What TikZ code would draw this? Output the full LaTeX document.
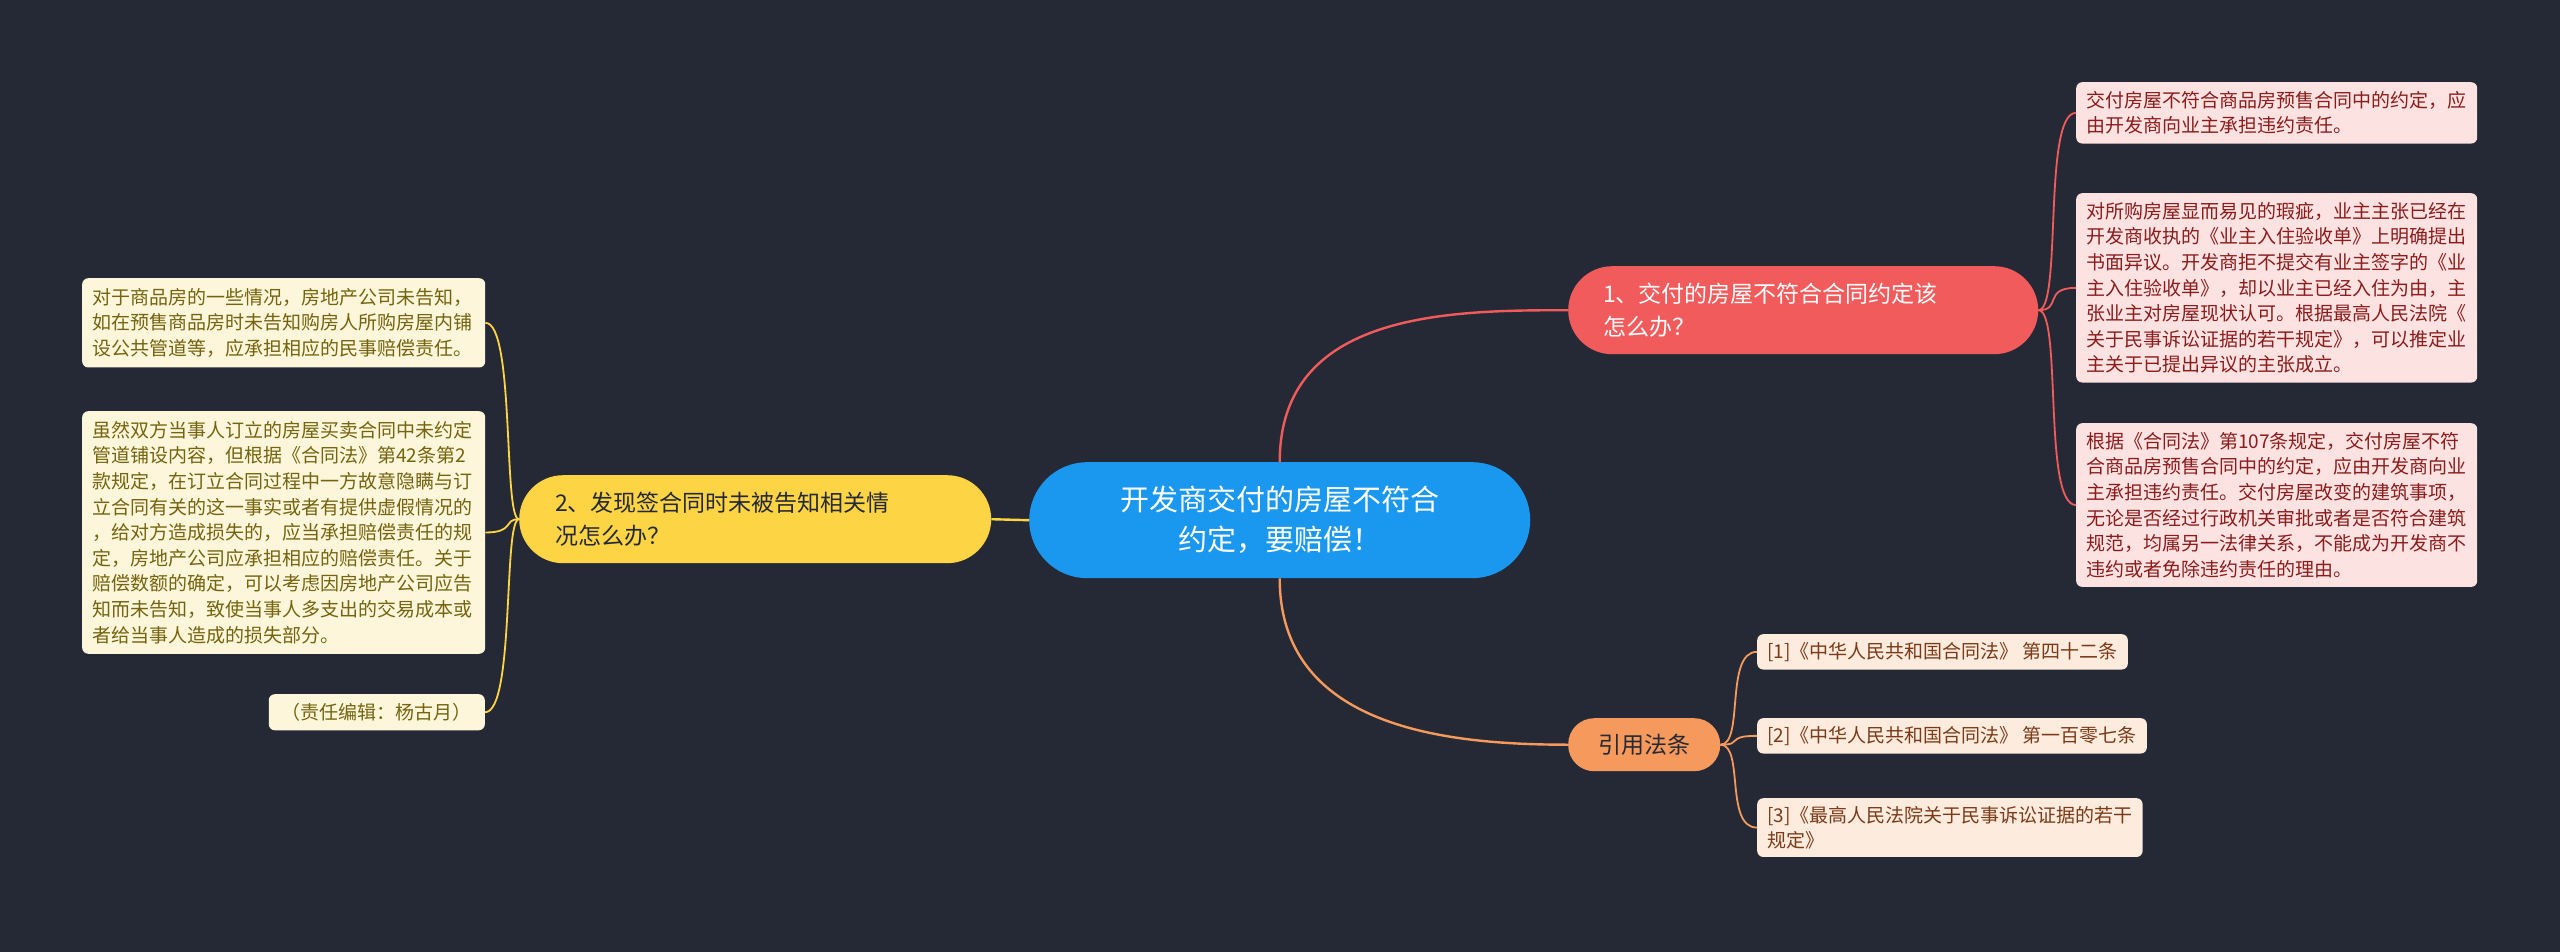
\documentclass[tikz,border=0pt]{standalone}
\usepackage{fontspec}
\usetikzlibrary{calc}
\setmainfont{Noto Sans CJK SC}
\definecolor{bg}{HTML}{252935}
\definecolor{cblue}{HTML}{1A97EE}
\definecolor{cred}{HTML}{F25B5B}
\definecolor{cora}{HTML}{F59A5C}
\definecolor{cyel}{HTML}{FDD443}
\definecolor{lred}{HTML}{FDE2E2}
\definecolor{lora}{HTML}{FDEBDD}
\definecolor{lyel}{HTML}{FDF6DA}
\definecolor{tred}{HTML}{8A1C1C}
\definecolor{tora}{HTML}{7A3A18}
\definecolor{tyel}{HTML}{74630F}
\begin{document}
\begin{tikzpicture}[x=1pt,y=-1pt,
  leaf/.style={anchor=north west,rounded corners=6pt,inner sep=0pt,align=left,font=\fontsize{19}{25.6}\selectfont},
  rleaf/.style={leaf,fill=lred,text=tred,text width=381pt,inner xsep=10pt,inner ysep=9pt},
  cleaf/.style={leaf,fill=lora,text=tora,inner xsep=10pt,inner ysep=8pt,font=\fontsize{19}{25}\selectfont},
  yleaf/.style={leaf,fill=lyel,text=tyel,text width=383pt,inner xsep=10pt,inner ysep=10pt},
  pill/.style={anchor=north west,inner sep=0pt,align=left},
  lnk/.style={line width=2.4pt}]
\fill[bg] (0,0) rectangle (2560,952);
\useasboundingbox (0,0) rectangle (2560,952);
% main
\node[pill,fill=cblue,text=white,minimum width=501pt,minimum height=116pt,rounded corners=58pt,align=center,font=\fontsize{29}{40}\selectfont] (c) at (1029,462) {开发商交付的房屋不符合\\约定，要赔偿！};
\node[pill,fill=cred,text=white,minimum width=470pt,minimum height=88pt,rounded corners=44pt,font=\fontsize{23}{33}\selectfont,text width=400pt,inner xsep=35pt] (n1) at (1568,266) {1、交付的房屋不符合合同约定该\\怎么办？};
\node[pill,fill=cora,text=bg,minimum width=152pt,minimum height=53pt,rounded corners=26pt,align=center,font=\fontsize{23}{30}\selectfont] (n3) at (1568,718) {引用法条};
\node[pill,fill=cyel,text=bg,minimum width=472pt,minimum height=88pt,rounded corners=44pt,font=\fontsize{23}{33}\selectfont,text width=400pt,inner xsep=36pt] (n2) at (519,475) {2、发现签合同时未被告知相关情\\况怎么办？};
% right leaves
\node[rleaf] (r1) at (2076,82) {交付房屋不符合商品房预售合同中的约定，应\\由开发商向业主承担违约责任。};
\node[rleaf] (r2) at (2076,193) {对所购房屋显而易见的瑕疵，业主主张已经在\\开发商收执的《业主入住验收单》上明确提出\\书面异议。开发商拒不提交有业主签字的《业\\主入住验收单》，却以业主已经入住为由，主\\张业主对房屋现状认可。根据最高人民法院《\\关于民事诉讼证据的若干规定》，可以推定业\\主关于已提出异议的主张成立。};
\node[rleaf] (r3) at (2076,423) {根据《合同法》第107条规定，交付房屋不符\\合商品房预售合同中的约定，应由开发商向业\\主承担违约责任。交付房屋改变的建筑事项，\\无论是否经过行政机关审批或者是否符合建筑\\规范，均属另一法律关系，不能成为开发商不\\违约或者免除违约责任的理由。};
% citations
\node[cleaf] (k1) at (1757,634) {[1]《中华人民共和国合同法》 第四十二条};
\node[cleaf] (k2) at (1757,718) {[2]《中华人民共和国合同法》 第一百零七条};
\node[cleaf] (k3) at (1757,798) {[3]《最高人民法院关于民事诉讼证据的若干\\规定》};
% left leaves
\node[yleaf] (y1) at (82,278) {对于商品房的一些情况，房地产公司未告知，\\如在预售商品房时未告知购房人所购房屋内铺\\设公共管道等，应承担相应的民事赔偿责任。};
\node[yleaf] (y2) at (82,411) {虽然双方当事人订立的房屋买卖合同中未约定\\管道铺设内容，但根据《合同法》第42条第2\\款规定，在订立合同过程中一方故意隐瞒与订\\立合同有关的这一事实或者有提供虚假情况的\\，给对方造成损失的，应当承担赔偿责任的规\\定，房地产公司应承担相应的赔偿责任。关于\\赔偿数额的确定，可以考虑因房地产公司应告\\知而未告知，致使当事人多支出的交易成本或\\者给当事人造成的损失部分。};
\node[leaf,fill=lyel,text=tyel,inner xsep=13pt,inner ysep=9pt,anchor=north east] (y3) at (485,694) {（责任编辑：杨古月）};
% links from center
\draw[lnk,cred] (c.north) .. controls ($(c.north)+(0,-150)$) and ($(n1.west)+(-120,0)$) .. (n1.west);
\draw[lnk,cora] (c.south) .. controls ($(c.south)+(0,150)$) and ($(n3.west)+(-120,0)$) .. (n3.west);
\draw[lnk,cyel] (c.west) -- (n2.east);
% red branch
\foreach \t in {r1,r2,r3}
  \draw[lnk,cred,line width=1.8pt] (n1.east) .. controls ($(n1.east)+(24,0)$) and ($(n1.east|-\t.west)+(4,0)$) .. (\t.west);
% orange branch
\foreach \t in {k1,k2,k3}
  \draw[lnk,cora,line width=1.8pt] (n3.east) .. controls ($(n3.east)+(24,0)$) and ($(n3.east|-\t.west)+(4,0)$) .. (\t.west);
% yellow branch
\foreach \t in {y1,y2,y3}
  \draw[lnk,cyel,line width=1.8pt] (n2.west) .. controls ($(n2.west)+(-16,0)$) and ($(n2.west|-\t.east)+(-4,0)$) .. (\t.east);
\end{tikzpicture}
\end{document}
